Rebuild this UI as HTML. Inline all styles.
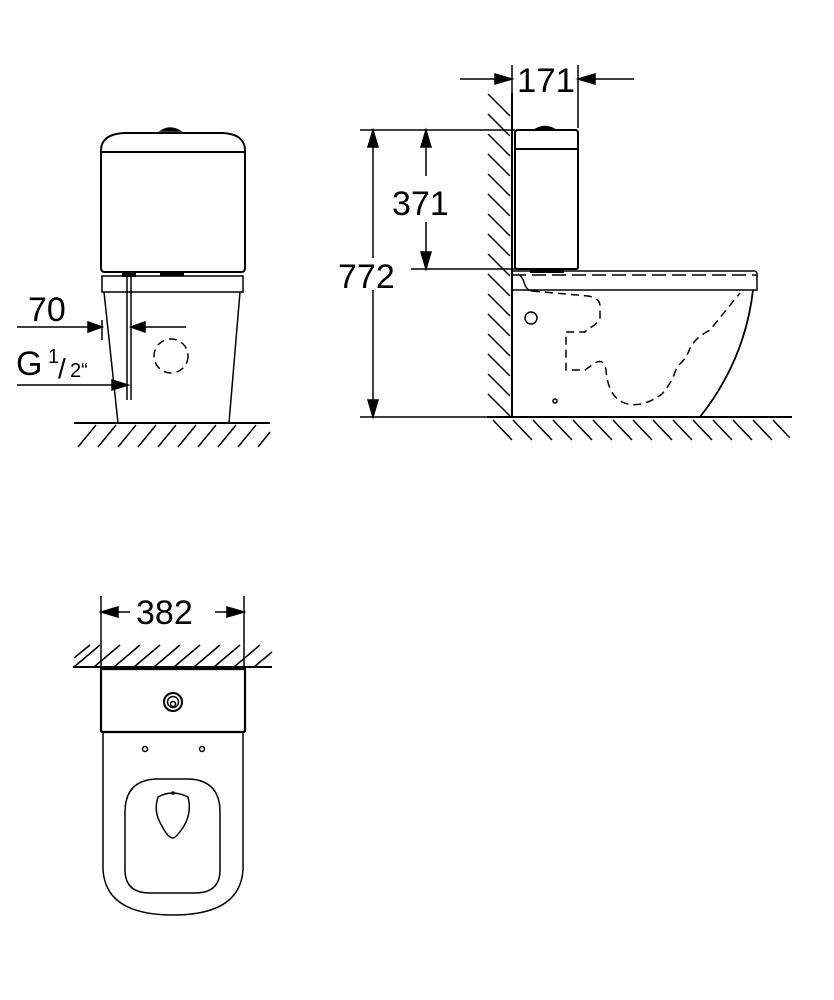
<!DOCTYPE html>
<html><head><meta charset="utf-8"><style>
html,body{margin:0;padding:0;background:#fff;}
svg{display:block;}
text{font-family:"Liberation Sans",sans-serif;fill:#000;stroke:none;}
</style></head><body>
<svg width="834" height="1000" viewBox="0 0 834 1000" xmlns="http://www.w3.org/2000/svg" stroke="#000" fill="none" stroke-width="1.5">
<!-- ========== FRONT VIEW ========== -->
<path d="M101,152 L101,268 Q101,272 105,272 L241,272 Q245,272 245,268 L245,152" stroke-width="2"/>
<path d="M101,152 Q100,134 125,133 L222,133 Q246,134 245,152 Z" stroke-width="2"/>
<path d="M161,131 Q170,125 180,131 Z" fill="#000"/>
<path d="M102,276 L243,276 L243,292 L102,292 Z" stroke-width="1.5"/>
<rect x="122" y="273" width="14" height="4" fill="#000" stroke="none"/>
<rect x="160" y="273" width="24" height="3" fill="#000" stroke="none"/>
<path d="M104,292 L118,423 M240,292 L229,423"/>
<line x1="127" y1="277" x2="127" y2="400"/>
<line x1="131" y1="277" x2="131" y2="400"/>
<circle cx="171" cy="356" r="17" stroke-dasharray="8,5"/>
<line x1="74" y1="423" x2="270" y2="423" stroke-width="2"/>
<g stroke-width="1.5">
<path d="M78,447 L96,425 M98,447 L116,425 M118,447 L136,425 M138,447 L156,425 M158,447 L176,425 M178,447 L196,425 M198,447 L216,425 M218,447 L236,425 M238,447 L256,425 M258,447 L270,432"/>
</g>
<!-- 70 dim -->
<text x="28" y="321" font-size="34">70</text>
<line x1="17" y1="327" x2="90" y2="327"/>
<polygon points="102,327 88,322 88,332" fill="#000"/>
<line x1="143" y1="327" x2="186" y2="327"/>
<polygon points="131,327 145,322 145,332" fill="#000"/>
<line x1="102" y1="320" x2="102" y2="340"/>
<!-- G 1/2 -->
<text x="16" y="375" font-size="34">G</text>
<text x="48" y="363" font-size="20">1</text>
<text x="58" y="378" font-size="28">/</text>
<text x="70" y="377" font-size="20">2“</text>
<line x1="17" y1="385" x2="112" y2="385"/>
<polygon points="128,385 112,380 112,390" fill="#000"/>

<!-- ========== SIDE VIEW ========== -->
<line x1="512" y1="93" x2="512" y2="417" stroke-width="2"/>
<g>
<path d="M488,94 L510,116 M488,114 L510,136 M488,134 L510,156 M488,154 L510,176 M488,174 L510,196 M488,194 L510,216 M488,214 L510,236 M488,234 L510,256 M488,254 L510,276 M488,274 L510,296 M488,294 L510,316 M488,314 L510,336 M488,334 L510,356 M488,354 L510,376 M488,374 L510,396 M488,394 L510,416"/>
</g>
<line x1="487" y1="417" x2="792" y2="417" stroke-width="2"/>
<path d="M493,420 L512,440 M513,420 L532,440 M533,420 L552,440 M553,420 L572,440 M573,420 L592,440 M593,420 L612,440 M613,420 L632,440 M633,420 L652,440 M653,420 L672,440 M673,420 L692,440 M693,420 L712,440 M713,420 L732,440 M733,420 L752,440 M753,420 L772,440 M773,420 L790,438"/>
<!-- tank -->
<path d="M515,149 L515,267 Q515,269 517,269 L576,269 Q578,269 578,267 L578,149" stroke-width="2"/>
<path d="M515,149 L515,133 Q515,130 518,130 L575,130 Q578,130 578,133 L578,149 Z" stroke-width="2"/>
<path d="M536,129 Q545,124 554,129 Z" fill="#000"/>
<rect x="530" y="268" width="34" height="5" fill="#000" stroke="none"/>
<!-- seat -->
<path d="M512,271 L754,271 Q757,271 757,274 L757,290 L512,290"/>
<line x1="512" y1="275" x2="757" y2="275" stroke-dasharray="14,6"/>
<path d="M518,274 Q522,276 524,282 Q526,290 532,291"/>
<!-- bowl -->
<path d="M753,290 Q745,360 700,417" stroke-width="1.8"/>
<circle cx="531" cy="318" r="6"/>
<circle cx="555" cy="401" r="2"/>
<path d="M532,291 L588,296 Q600,298 600,306 L600,318 Q598,324 588,329 L585,332 L566,332 L566,370 L585,370 L595,363 Q604,358 606,370 Q608,395 622,402 Q640,410 662,394 Q672,382 675,372 Q678,365 682,362 Q688,355 690,348 Q695,338 710,330 L740,293" stroke-dasharray="8,5"/>
<!-- 171 -->
<line x1="512" y1="65" x2="512" y2="95"/>
<line x1="578" y1="65" x2="578" y2="128"/>
<line x1="460" y1="79" x2="496" y2="79"/>
<polygon points="512,79 495,74 495,84" fill="#000"/>
<line x1="594" y1="79" x2="634" y2="79"/>
<polygon points="578,79 595,74 595,84" fill="#000"/>
<text x="517" y="92" font-size="34" textLength="58" lengthAdjust="spacingAndGlyphs">171</text>
<!-- 772 / 371 -->
<line x1="360" y1="130" x2="515" y2="130"/>
<line x1="360" y1="417" x2="512" y2="417"/>
<line x1="411" y1="269" x2="515" y2="269"/>
<line x1="373" y1="146" x2="373" y2="401"/>
<polygon points="373,130 368,147 378,147" fill="#000"/>
<polygon points="373,417 368,400 378,400" fill="#000"/>
<line x1="426" y1="146" x2="426" y2="176"/>
<line x1="426" y1="222" x2="426" y2="253"/>
<polygon points="426,130 421,147 431,147" fill="#000"/>
<polygon points="426,269 421,252 431,252" fill="#000"/>
<rect x="335" y="258" width="72" height="32" fill="#fff" stroke="none"/>
<text x="392" y="215" font-size="34">371</text>
<text x="338" y="288" font-size="34">772</text>

<!-- ========== TOP VIEW ========== -->
<line x1="101" y1="596" x2="101" y2="670"/>
<line x1="244" y1="596" x2="244" y2="670"/>
<line x1="118" y1="612" x2="130" y2="612"/>
<polygon points="101,612 118,607 118,617" fill="#000"/>
<line x1="215" y1="612" x2="228" y2="612"/>
<polygon points="244,612 227,607 227,617" fill="#000"/>
<text x="136" y="624" font-size="34">382</text>
<line x1="73" y1="667" x2="272" y2="667" stroke-width="2"/>
<path d="M74,658 L90,645 M74,667 L100,645 M94,667 L120,645 M114,667 L140,645 M134,667 L160,645 M154,667 L180,645 M174,667 L200,645 M194,667 L220,645 M214,667 L240,645 M234,667 L260,645 M254,667 L272,652"/>
<path d="M101,669 L245,669 L245,730 Q245,732 243,732 L103,732 Q101,732 101,730 Z" stroke-width="2.2"/>
<circle cx="173" cy="702" r="9" stroke-width="2"/>
<circle cx="173" cy="702" r="5.5" stroke-width="1.5"/>
<circle cx="173" cy="704" r="2.5" stroke-width="1.5"/>
<path d="M103,732 L103,870 Q106,915 173,915 Q240,915 243,870 L243,732"/>
<circle cx="145" cy="749" r="2.5"/>
<circle cx="202" cy="749" r="2.5"/>
<path d="M155,779 L190,779 Q220,781 220,812 L220,870 Q220,893 195,893 L150,893 Q125,893 125,870 L125,812 Q125,781 155,779 Z"/>
<path d="M158,797 Q172,789 188,797 Q192,812 184,826 Q176,838 173,838 Q168,838 162,826 Q153,812 158,797 Z"/>
<circle cx="173" cy="793" r="1" fill="#000"/>
</svg>
</body></html>
